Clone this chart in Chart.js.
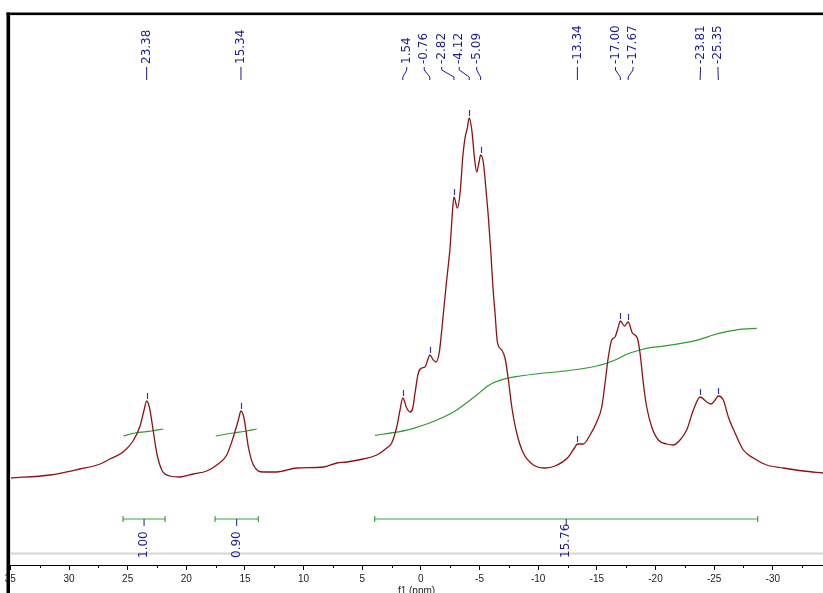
<!DOCTYPE html>
<html>
<head>
<meta charset="utf-8">
<script src="https://cdn.jsdelivr.net/npm/chart.js@4.4.1/dist/chart.umd.min.js"></script>
<style>
  html, body { margin: 0; padding: 0; background: #fff; overflow: hidden; }
  #wrap { width: 823px; height: 593px; overflow: hidden; position: relative; }
</style>
</head>
<body>
<div id="wrap"><canvas id="nmr" width="823" height="597"></canvas></div>
<script>
// Proton spectrum: chemical shift (ppm) and intensity (arbitrary units)
const shiftPpm = [
  35.03, 31.62, 29.06, 27.35, 26.50, 25.39, 24.54, 23.94, 23.60, 23.38,
  23.15, 22.83, 22.52, 22.09, 21.39, 20.53, 19.42, 18.26, 17.40, 16.55,
  15.99, 15.56, 15.34, 15.08, 14.71, 14.28, 13.43, 12.29, 10.58, 8.32,
  7.17, 6.32, 4.91, 3.76, 2.91, 2.49, 2.06, 1.78, 1.54, 1.21,
  0.93, 0.69, 0.50, 0.22, -0.07, -0.35, -0.58, -0.76, -1.06, -1.29,
  -1.57, -1.78, -1.97, -2.20, -2.49, -2.72, -2.82, -3.11, -3.34, -3.57,
  -3.76, -3.96, -4.12, -4.34, -4.56, -4.76, -4.96, -5.09, -5.32, -5.55,
  -5.75, -5.95, -6.13, -6.32, -6.52, -6.89, -7.17, -7.46, -7.75, -8.17,
  -8.73, -9.59, -10.58, -11.44, -12.57, -13.14, -13.34, -13.85, -14.42, -14.99,
  -15.42, -15.70, -15.98, -16.27, -16.55, -16.83, -17.00, -17.36, -17.67, -18.03,
  -18.45, -18.68, -18.96, -19.25, -19.68, -20.24, -20.96, -21.52, -22.09, -22.66,
  -23.23, -23.81, -24.37, -24.74, -25.14, -25.35, -25.78, -26.21, -26.78, -27.49,
  -28.34, -29.48, -30.90, -32.60, -34.28
];
const intensity = [
  -6, -3, 3, 8, 13, 20, 31, 46, 62, 71,
  65, 42, 19, 2, -4, -5, -2, 1, 7, 17,
  35, 52, 61, 54, 25, 7, 0, 0, 4, 5,
  9, 10, 13, 17, 24, 29, 45, 62, 74, 64,
  60, 64, 79, 99, 104, 105, 112, 117, 112, 110,
  120, 142, 165, 192, 225, 265, 275, 264, 279, 315,
  334, 344, 354, 342, 315, 300, 310, 317, 310, 282,
  255, 222, 187, 159, 130, 122, 114, 92, 65, 39,
  19, 7, 4, 6, 15, 25, 28, 28, 37, 50,
  65, 89, 115, 132, 135, 145, 151, 146, 150, 139,
  134, 119, 89, 65, 45, 32, 28, 27, 32, 42,
  62, 75, 70, 68, 73, 76, 72, 55, 39, 22,
  14, 7, 4, 1, -1
];

// Picked peaks (ppm)
const peakShifts = [23.38, 15.34, 1.54, -0.76, -2.82, -4.12, -5.09, -13.34, -17.00, -17.67, -23.81, -25.35];

// Integration regions (ppm) and normalised integrals
const integralFrom = [25.39, 17.55, 3.94];
const integralTo = [21.81, 13.86, -28.72];
const integralValues = [1.00, 0.90, 15.76];

// Running integral traces
const int1Ppm = [25.37, 24.37, 22.95, 21.96];
const int1Val = [36, 39, 41, 43];
const int2Ppm = [17.49, 15.99, 14.85, 13.99];
const int2Val = [36, 39, 41, 43];
const int3Ppm = [3.91, 2.35, 0.93, -0.50, -1.91, -3.06, -3.91, -4.76, -5.61, -6.18,
  -7.32, -8.45, -10.16, -11.86, -13.57, -14.99, -15.84, -16.70, -17.55, -18.68,
  -19.53, -20.96, -22.66, -23.80, -24.93, -26.07, -27.21, -28.63];
const int3Val = [36.7, 39.3, 42.7, 48, 54.7, 62, 69.3, 77, 85.3, 89.3,
  93.7, 96, 98.5, 100.5, 103, 106, 108.7, 112.7, 117.7, 122,
  124.3, 126.3, 129.7, 132.7, 137, 140.3, 142.7, 143.7];

const BAR_LEVEL = -47;     // height of the integration bars
const SEP_LEVEL = -81;     // light separator under the bars
const LABEL_BLUE = '#1c1c90';
const GREEN = '#2f9a2f';
const SPEC_RED = '#8e1212';

const zip = (xs, ys) => xs.map((v, i) => ({ x: v, y: ys[i] }));

const datasets = [
  { data: zip(shiftPpm, intensity), borderColor: SPEC_RED, borderWidth: 1.3, cubicInterpolationMode: 'monotone' },
  { data: zip(int1Ppm, int1Val), borderColor: GREEN, borderWidth: 1.2, cubicInterpolationMode: 'monotone' },
  { data: zip(int2Ppm, int2Val), borderColor: GREEN, borderWidth: 1.2, cubicInterpolationMode: 'monotone' },
  { data: zip(int3Ppm, int3Val), borderColor: GREEN, borderWidth: 1.2, cubicInterpolationMode: 'monotone' }
];
integralFrom.forEach((f, i) => {
  datasets.push({ data: [{ x: f, y: BAR_LEVEL }, { x: integralTo[i], y: BAR_LEVEL }], borderColor: '#3aa63a', borderWidth: 1.2 });
});

function heightAt(ppm) {
  let best = 0;
  shiftPpm.forEach((p, i) => { if (Math.abs(p - ppm) < Math.abs(shiftPpm[best] - ppm)) best = i; });
  return intensity[best];
}

function vText(ctx, text, x, y) {
  ctx.save();
  ctx.translate(x, y);
  ctx.rotate(-Math.PI / 2);
  ctx.textAlign = 'left';
  ctx.textBaseline = 'middle';
  ctx.fillText(text, 0, 0);
  ctx.restore();
}

const nmrDecor = {
  id: 'nmrDecor',
  beforeDatasetsDraw(chart) {
    const { ctx, chartArea: ca, scales: { y } } = chart;
    ctx.save();
    const sy = Math.round(y.getPixelForValue(SEP_LEVEL)) + 0.5;
    ctx.strokeStyle = '#d6d6d6';
    ctx.lineWidth = 2;
    ctx.beginPath(); ctx.moveTo(ca.left, sy); ctx.lineTo(ca.right, sy); ctx.stroke();
    ctx.restore();
  },
  afterDatasetsDraw(chart) {
    const { ctx, chartArea: ca, scales: { x, y } } = chart;
    ctx.save();

    // peak pick markers
    ctx.strokeStyle = '#3434a8';
    ctx.lineWidth = 1.2;
    peakShifts.forEach(p => {
      const px = Math.round(x.getPixelForValue(p)) + 0.5;
      const py = y.getPixelForValue(heightAt(p));
      ctx.beginPath(); ctx.moveTo(px, py - 2); ctx.lineTo(px, py - 8); ctx.stroke();
    });

    // peak labels, spread out where peaks crowd together
    const pxs = peakShifts.map(p => x.getPixelForValue(p));
    const order = pxs.map((v, i) => i).sort((a, b) => pxs[a] - pxs[b]);
    const groups = [];
    let cur = [order[0]];
    for (let k = 1; k < order.length; k++) {
      if (pxs[order[k]] - pxs[order[k - 1]] < 30) cur.push(order[k]);
      else { groups.push(cur); cur = [order[k]]; }
    }
    groups.push(cur);
    const labelX = [];
    const gap = 17.5;
    groups.forEach(g => {
      const mid = (pxs[g[0]] + pxs[g[g.length - 1]]) / 2;
      g.forEach((idx, k) => { labelX[idx] = mid + (k - (g.length - 1) / 2) * gap; });
    });

    ctx.font = '12px "DejaVu Sans"';
    ctx.fillStyle = LABEL_BLUE;
    ctx.strokeStyle = LABEL_BLUE;
    ctx.lineWidth = 1;
    const textY = ca.top + 49;
    peakShifts.forEach((p, i) => {
      const lx = labelX[i];
      const px = pxs[i];
      vText(ctx, p.toFixed(2), lx, textY);
      const y0 = ca.top + 52, y1 = ca.top + 55, y2 = ca.top + 62, y3 = ca.top + 65;
      ctx.beginPath();
      ctx.moveTo(lx, y0); ctx.lineTo(lx, y1);
      ctx.lineTo(px, y2); ctx.lineTo(px, y3);
      ctx.stroke();
    });

    // integration bar end caps and values
    const by = y.getPixelForValue(BAR_LEVEL);
    integralFrom.forEach((f, i) => {
      const xa = x.getPixelForValue(f), xb = x.getPixelForValue(integralTo[i]);
      ctx.strokeStyle = '#3aa63a';
      ctx.lineWidth = 1.2;
      ctx.beginPath();
      ctx.moveTo(xa, by - 3); ctx.lineTo(xa, by + 3);
      ctx.moveTo(xb, by - 3); ctx.lineTo(xb, by + 3);
      ctx.stroke();
      const cx = x.getPixelForValue((f + integralTo[i]) / 2);
      ctx.strokeStyle = LABEL_BLUE;
      ctx.lineWidth = 1;
      ctx.beginPath(); ctx.moveTo(cx, by); ctx.lineTo(cx, by + 7); ctx.stroke();
      ctx.fillStyle = LABEL_BLUE;
      vText(ctx, integralValues[i].toFixed(2), cx, by + 39);
    });
    ctx.restore();
  },
  afterDraw(chart) {
    const { ctx, chartArea: ca, scales: { x } } = chart;
    ctx.save();
    // minor ticks
    ctx.strokeStyle = '#000';
    ctx.lineWidth = 1;
    for (let v = -32.5; v <= 32.5; v += 5) {
      const px = Math.round(x.getPixelForValue(v)) + 0.5;
      ctx.beginPath(); ctx.moveTo(px, ca.bottom); ctx.lineTo(px, ca.bottom + 3); ctx.stroke();
    }
    // frame
    ctx.fillStyle = '#e2e2e2';
    ctx.fillRect(ca.left, ca.top, 1, ca.bottom - ca.top);
    ctx.fillRect(ca.left, ca.top, ca.right - ca.left, 1);
    ctx.fillStyle = '#000';
    ctx.fillRect(ca.left - 3.5, ca.top - 2.5, 3.5, chart.height);
    ctx.fillRect(ca.left - 3.5, ca.top - 2.5, chart.width, 2.5);
    ctx.restore();
  }
};

new Chart(document.getElementById('nmr'), {
  type: 'line',
  data: { datasets },
  plugins: [nmrDecor],
  options: {
    responsive: false,
    animation: false,
    parsing: true,
    elements: { point: { radius: 0 }, line: { fill: false } },
    layout: { padding: { left: 10, top: 15, right: 0, bottom: 0 }, autoPadding: false },
    plugins: { legend: { display: false }, tooltip: { enabled: false } },
    scales: {
      x: {
        type: 'linear',
        reverse: true,
        min: -34.28,
        max: 35.03,
        ticks: {
          stepSize: 5,
          includeBounds: false,
          autoSkip: false,
          maxRotation: 0,
          padding: 3,
          color: '#1a1a1a',
          font: { family: 'Liberation Sans', size: 10 },
          callback: v => String(v)
        },
        grid: { drawOnChartArea: false, drawTicks: true, tickLength: 5, tickColor: '#000' },
        border: { display: true, color: '#000', width: 1 },
        title: {
          display: true,
          text: 'f1 (ppm)',
          color: '#1a1a1a',
          font: { family: 'Liberation Sans', size: 10 },
          padding: { top: 0, bottom: 0 }
        },
        afterFit(scale) { scale.height = 32; }
      },
      y: { type: 'linear', display: false, min: -93, max: 457 }
    }
  }
});
</script>
</body>
</html>
